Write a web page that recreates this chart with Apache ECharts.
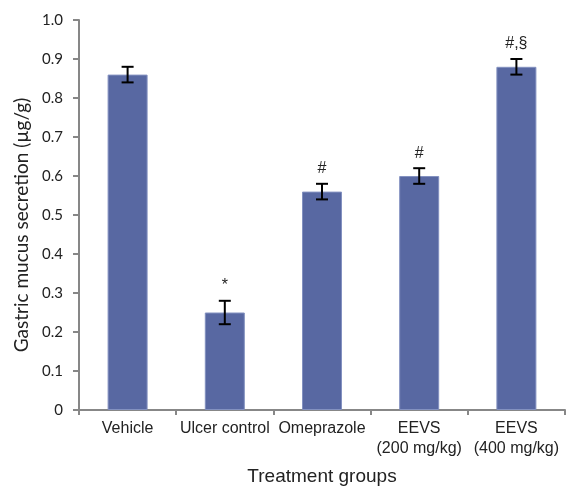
<!DOCTYPE html>
<html>
<head>
<meta charset="utf-8">
<script src="https://cdn.jsdelivr.net/npm/echarts@6/dist/echarts.min.js"></script>
<style>
  html, body { margin: 0; padding: 0; background: #fff; }
  #chart { width: 568px; height: 486px; }
</style>
</head>
<body>
<div id="chart"></div>
<script>
// groups and values
const groups = ['Vehicle', 'Ulcer control', 'Omeprazole', 'EEVS\n(200 mg/kg)', 'EEVS\n(400 mg/kg)']
const means = [0.86, 0.25, 0.56, 0.60, 0.88]
const errors = [0.02, 0.03, 0.02, 0.02, 0.02]
const marks = ['', '*', '#', '#', '#,§']

const FONT = 'Liberation Sans, Arial, sans-serif'
const FONT_Y = 'Lato, Liberation Sans, sans-serif'

let errData = means.map((m, i) => [i, m - errors[i], m + errors[i]])

let myChart = echarts.init(document.getElementById('chart'))
myChart.setOption({
  animation: false,
  grid: {
    left: 79,
    right: 3,
    top: 20,
    bottom: 76,
    containLabel: false,
    outerBoundsMode: 'none'
  },
  xAxis: {
    type: 'category',
    data: groups,
    name: 'Treatment groups',
    nameLocation: 'middle',
    nameGap: 57,
    nameTextStyle: { fontFamily: FONT, fontSize: 19, color: '#222' },
    axisLine: { lineStyle: { color: '#878787', width: 2 } },
    axisTick: { show: true, alignWithLabel: false, length: 5, lineStyle: { color: '#878787', width: 2 } },
    axisLabel: { fontFamily: FONT, fontSize: 16, color: '#222', margin: 9, interval: 0, lineHeight: 20 }
  },
  yAxis: {
    type: 'value',
    min: 0,
    max: 1.0,
    interval: 0.1,
    name: 'Gastric mucus secretion (µg/g)',
    nameLocation: 'middle',
    nameGap: 46,
    // shift the title a bit lower, as in the original
    nameTextStyle: { fontFamily: FONT_Y, fontSize: 19, color: '#222', padding: [0, 20, 0, 0] },
    splitLine: { show: false },
    axisLine: { show: true, lineStyle: { color: '#878787', width: 2 } },
    axisTick: { show: true, length: 6, lineStyle: { color: '#878787', width: 2 } },
    axisLabel: {
      fontFamily: FONT_Y,
      fontSize: 15,
      color: '#222',
      margin: 16,
      formatter: function (v) {
        return v === 0 ? '0' : v.toFixed(1)
      }
    }
  },
  series: [
    {
      type: 'bar',
      data: means,
      barWidth: 40,
      itemStyle: { color: '#5868a2', borderColor: '#8391c0', borderWidth: 1 }
    },
    {
      type: 'custom',
      data: errData,
      z: 10,
      renderItem: function (params, api) {
        let x = api.value(0)
        let lo = api.coord([x, api.value(1)])
        let hi = api.coord([x, api.value(2)])
        let cap = 6
        let style = { stroke: '#000', lineWidth: 2 }
        return {
          type: 'group',
          children: [
            { type: 'line', shape: { x1: lo[0], y1: lo[1], x2: hi[0], y2: hi[1] }, style: style },
            { type: 'line', shape: { x1: lo[0] - cap, y1: lo[1], x2: lo[0] + cap, y2: lo[1] }, style: style },
            { type: 'line', shape: { x1: hi[0] - cap, y1: hi[1], x2: hi[0] + cap, y2: hi[1] }, style: style },
            {
              type: 'text',
              x: hi[0],
              y: hi[1] - 7,
              style: {
                text: marks[x],
                fontFamily: FONT,
                fontSize: 16,
                fill: '#222',
                align: 'center',
                verticalAlign: 'bottom'
              }
            }
          ]
        }
      }
    }
  ]
})
</script>
</body>
</html>
